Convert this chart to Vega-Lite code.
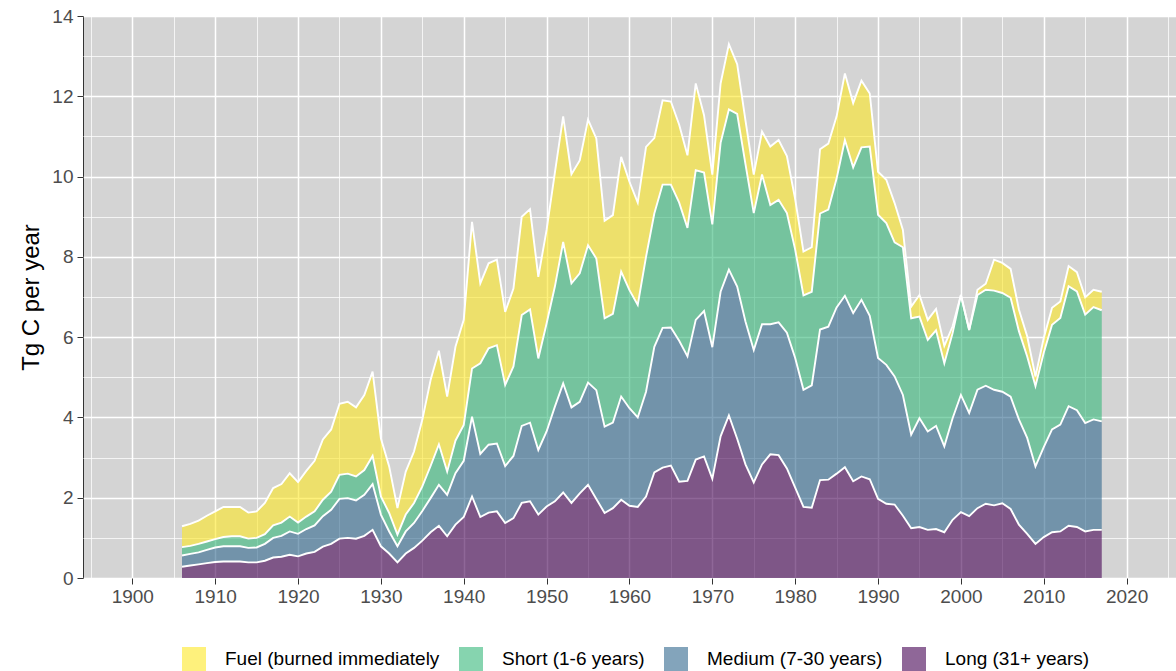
{
"$schema": "https://vega.github.io/schema/vega-lite/v6.json",
"width": 1093, "height": 562,
"autosize": {"type": "none"},
"padding": {"left": 83, "top": 16, "right": 0, "bottom": 93},
"background": "white",
"config": {
  "font": "Liberation Sans",
  "view": {"fill": "#D4D4D4", "stroke": "#333333", "strokeWidth": 1},
  "axis": {"domain": false, "labelFont": "Liberation Sans", "labelFontSize": 19, "labelColor": "#4D4D4D", "tickColor": "#333333", "tickSize": 6, "tickWidth": 1, "gridColor": "#FFFFFF", "titleFont": "Liberation Sans", "titleFontSize": 24, "titleFontWeight": "normal", "titleColor": "#000000"}
},
"data": {"values": [
{"year":1906,"cat":"4","v":0.28},{"year":1906,"cat":"3","v":0.28},{"year":1906,"cat":"2","v":0.21},{"year":1906,"cat":"1","v":0.52},
{"year":1907,"cat":"4","v":0.31},{"year":1907,"cat":"3","v":0.29},{"year":1907,"cat":"2","v":0.20},{"year":1907,"cat":"1","v":0.55},
{"year":1908,"cat":"4","v":0.34},{"year":1908,"cat":"3","v":0.30},{"year":1908,"cat":"2","v":0.21},{"year":1908,"cat":"1","v":0.58},
{"year":1909,"cat":"4","v":0.37},{"year":1909,"cat":"3","v":0.33},{"year":1909,"cat":"2","v":0.21},{"year":1909,"cat":"1","v":0.64},
{"year":1910,"cat":"4","v":0.40},{"year":1910,"cat":"3","v":0.36},{"year":1910,"cat":"2","v":0.21},{"year":1910,"cat":"1","v":0.69},
{"year":1911,"cat":"4","v":0.41},{"year":1911,"cat":"3","v":0.38},{"year":1911,"cat":"2","v":0.23},{"year":1911,"cat":"1","v":0.75},
{"year":1912,"cat":"4","v":0.41},{"year":1912,"cat":"3","v":0.38},{"year":1912,"cat":"2","v":0.25},{"year":1912,"cat":"1","v":0.73},
{"year":1913,"cat":"4","v":0.41},{"year":1913,"cat":"3","v":0.38},{"year":1913,"cat":"2","v":0.25},{"year":1913,"cat":"1","v":0.73},
{"year":1914,"cat":"4","v":0.39},{"year":1914,"cat":"3","v":0.36},{"year":1914,"cat":"2","v":0.23},{"year":1914,"cat":"1","v":0.65},
{"year":1915,"cat":"4","v":0.39},{"year":1915,"cat":"3","v":0.37},{"year":1915,"cat":"2","v":0.24},{"year":1915,"cat":"1","v":0.66},
{"year":1916,"cat":"4","v":0.43},{"year":1916,"cat":"3","v":0.42},{"year":1916,"cat":"2","v":0.24},{"year":1916,"cat":"1","v":0.78},
{"year":1917,"cat":"4","v":0.51},{"year":1917,"cat":"3","v":0.49},{"year":1917,"cat":"2","v":0.31},{"year":1917,"cat":"1","v":0.93},
{"year":1918,"cat":"4","v":0.53},{"year":1918,"cat":"3","v":0.52},{"year":1918,"cat":"2","v":0.33},{"year":1918,"cat":"1","v":0.96},
{"year":1919,"cat":"4","v":0.58},{"year":1919,"cat":"3","v":0.58},{"year":1919,"cat":"2","v":0.37},{"year":1919,"cat":"1","v":1.08},
{"year":1920,"cat":"4","v":0.54},{"year":1920,"cat":"3","v":0.56},{"year":1920,"cat":"2","v":0.28},{"year":1920,"cat":"1","v":1.01},
{"year":1921,"cat":"4","v":0.61},{"year":1921,"cat":"3","v":0.61},{"year":1921,"cat":"2","v":0.31},{"year":1921,"cat":"1","v":1.14},
{"year":1922,"cat":"4","v":0.65},{"year":1922,"cat":"3","v":0.66},{"year":1922,"cat":"2","v":0.35},{"year":1922,"cat":"1","v":1.26},
{"year":1923,"cat":"4","v":0.78},{"year":1923,"cat":"3","v":0.76},{"year":1923,"cat":"2","v":0.41},{"year":1923,"cat":"1","v":1.50},
{"year":1924,"cat":"4","v":0.85},{"year":1924,"cat":"3","v":0.85},{"year":1924,"cat":"2","v":0.45},{"year":1924,"cat":"1","v":1.55},
{"year":1925,"cat":"4","v":0.98},{"year":1925,"cat":"3","v":0.99},{"year":1925,"cat":"2","v":0.60},{"year":1925,"cat":"1","v":1.77},
{"year":1926,"cat":"4","v":1.00},{"year":1926,"cat":"3","v":0.99},{"year":1926,"cat":"2","v":0.61},{"year":1926,"cat":"1","v":1.79},
{"year":1927,"cat":"4","v":0.98},{"year":1927,"cat":"3","v":0.95},{"year":1927,"cat":"2","v":0.60},{"year":1927,"cat":"1","v":1.72},
{"year":1928,"cat":"4","v":1.05},{"year":1928,"cat":"3","v":1.02},{"year":1928,"cat":"2","v":0.62},{"year":1928,"cat":"1","v":1.87},
{"year":1929,"cat":"4","v":1.20},{"year":1929,"cat":"3","v":1.14},{"year":1929,"cat":"2","v":0.70},{"year":1929,"cat":"1","v":2.10},
{"year":1930,"cat":"4","v":0.79},{"year":1930,"cat":"3","v":0.79},{"year":1930,"cat":"2","v":0.45},{"year":1930,"cat":"1","v":1.45},
{"year":1931,"cat":"4","v":0.61},{"year":1931,"cat":"3","v":0.55},{"year":1931,"cat":"2","v":0.46},{"year":1931,"cat":"1","v":1.16},
{"year":1932,"cat":"4","v":0.39},{"year":1932,"cat":"3","v":0.40},{"year":1932,"cat":"2","v":0.29},{"year":1932,"cat":"1","v":0.66},
{"year":1933,"cat":"4","v":0.61},{"year":1933,"cat":"3","v":0.55},{"year":1933,"cat":"2","v":0.42},{"year":1933,"cat":"1","v":1.07},
{"year":1934,"cat":"4","v":0.75},{"year":1934,"cat":"3","v":0.62},{"year":1934,"cat":"2","v":0.50},{"year":1934,"cat":"1","v":1.28},
{"year":1935,"cat":"4","v":0.93},{"year":1935,"cat":"3","v":0.74},{"year":1935,"cat":"2","v":0.61},{"year":1935,"cat":"1","v":1.66},
{"year":1936,"cat":"4","v":1.14},{"year":1936,"cat":"3","v":0.85},{"year":1936,"cat":"2","v":0.80},{"year":1936,"cat":"1","v":2.14},
{"year":1937,"cat":"4","v":1.30},{"year":1937,"cat":"3","v":1.02},{"year":1937,"cat":"2","v":1.01},{"year":1937,"cat":"1","v":2.33},
{"year":1938,"cat":"4","v":1.04},{"year":1938,"cat":"3","v":1.03},{"year":1938,"cat":"2","v":0.58},{"year":1938,"cat":"1","v":1.87},
{"year":1939,"cat":"4","v":1.33},{"year":1939,"cat":"3","v":1.28},{"year":1939,"cat":"2","v":0.81},{"year":1939,"cat":"1","v":2.34},
{"year":1940,"cat":"4","v":1.52},{"year":1940,"cat":"3","v":1.40},{"year":1940,"cat":"2","v":0.89},{"year":1940,"cat":"1","v":2.62},
{"year":1941,"cat":"4","v":2.03},{"year":1941,"cat":"3","v":1.99},{"year":1941,"cat":"2","v":1.20},{"year":1941,"cat":"1","v":3.65},
{"year":1942,"cat":"4","v":1.52},{"year":1942,"cat":"3","v":1.57},{"year":1942,"cat":"2","v":2.26},{"year":1942,"cat":"1","v":1.99},
{"year":1943,"cat":"4","v":1.63},{"year":1943,"cat":"3","v":1.69},{"year":1943,"cat":"2","v":2.40},{"year":1943,"cat":"1","v":2.12},
{"year":1944,"cat":"4","v":1.66},{"year":1944,"cat":"3","v":1.69},{"year":1944,"cat":"2","v":2.45},{"year":1944,"cat":"1","v":2.13},
{"year":1945,"cat":"4","v":1.37},{"year":1945,"cat":"3","v":1.42},{"year":1945,"cat":"2","v":2.02},{"year":1945,"cat":"1","v":1.82},
{"year":1946,"cat":"4","v":1.49},{"year":1946,"cat":"3","v":1.55},{"year":1946,"cat":"2","v":2.23},{"year":1946,"cat":"1","v":1.94},
{"year":1947,"cat":"4","v":1.87},{"year":1947,"cat":"3","v":1.92},{"year":1947,"cat":"2","v":2.76},{"year":1947,"cat":"1","v":2.45},
{"year":1948,"cat":"4","v":1.91},{"year":1948,"cat":"3","v":1.96},{"year":1948,"cat":"2","v":2.82},{"year":1948,"cat":"1","v":2.50},
{"year":1949,"cat":"4","v":1.58},{"year":1949,"cat":"3","v":1.61},{"year":1949,"cat":"2","v":2.28},{"year":1949,"cat":"1","v":2.03},
{"year":1950,"cat":"4","v":1.78},{"year":1950,"cat":"3","v":1.87},{"year":1950,"cat":"2","v":2.69},{"year":1950,"cat":"1","v":2.33},
{"year":1951,"cat":"4","v":1.91},{"year":1951,"cat":"3","v":2.36},{"year":1951,"cat":"2","v":2.99},{"year":1951,"cat":"1","v":2.84},
{"year":1952,"cat":"4","v":2.13},{"year":1952,"cat":"3","v":2.72},{"year":1952,"cat":"2","v":3.52},{"year":1952,"cat":"1","v":3.13},
{"year":1953,"cat":"4","v":1.87},{"year":1953,"cat":"3","v":2.38},{"year":1953,"cat":"2","v":3.09},{"year":1953,"cat":"1","v":2.72},
{"year":1954,"cat":"4","v":2.11},{"year":1954,"cat":"3","v":2.28},{"year":1954,"cat":"2","v":3.20},{"year":1954,"cat":"1","v":2.81},
{"year":1955,"cat":"4","v":2.32},{"year":1955,"cat":"3","v":2.55},{"year":1955,"cat":"2","v":3.42},{"year":1955,"cat":"1","v":3.13},
{"year":1956,"cat":"4","v":1.97},{"year":1956,"cat":"3","v":2.71},{"year":1956,"cat":"2","v":3.28},{"year":1956,"cat":"1","v":2.99},
{"year":1957,"cat":"4","v":1.62},{"year":1957,"cat":"3","v":2.15},{"year":1957,"cat":"2","v":2.70},{"year":1957,"cat":"1","v":2.43},
{"year":1958,"cat":"4","v":1.74},{"year":1958,"cat":"3","v":2.13},{"year":1958,"cat":"2","v":2.71},{"year":1958,"cat":"1","v":2.46},
{"year":1959,"cat":"4","v":1.95},{"year":1959,"cat":"3","v":2.57},{"year":1959,"cat":"2","v":3.11},{"year":1959,"cat":"1","v":2.86},
{"year":1960,"cat":"4","v":1.80},{"year":1960,"cat":"3","v":2.43},{"year":1960,"cat":"2","v":2.94},{"year":1960,"cat":"1","v":2.70},
{"year":1961,"cat":"4","v":1.77},{"year":1961,"cat":"3","v":2.23},{"year":1961,"cat":"2","v":2.80},{"year":1961,"cat":"1","v":2.55},
{"year":1962,"cat":"4","v":2.03},{"year":1962,"cat":"3","v":2.61},{"year":1962,"cat":"2","v":3.36},{"year":1962,"cat":"1","v":2.74},
{"year":1963,"cat":"4","v":2.63},{"year":1963,"cat":"3","v":3.13},{"year":1963,"cat":"2","v":3.32},{"year":1963,"cat":"1","v":1.88},
{"year":1964,"cat":"4","v":2.75},{"year":1964,"cat":"3","v":3.48},{"year":1964,"cat":"2","v":3.57},{"year":1964,"cat":"1","v":2.10},
{"year":1965,"cat":"4","v":2.80},{"year":1965,"cat":"3","v":3.44},{"year":1965,"cat":"2","v":3.56},{"year":1965,"cat":"1","v":2.07},
{"year":1966,"cat":"4","v":2.40},{"year":1966,"cat":"3","v":3.51},{"year":1966,"cat":"2","v":3.44},{"year":1966,"cat":"1","v":1.94},
{"year":1967,"cat":"4","v":2.42},{"year":1967,"cat":"3","v":3.10},{"year":1967,"cat":"2","v":3.20},{"year":1967,"cat":"1","v":1.81},
{"year":1968,"cat":"4","v":2.95},{"year":1968,"cat":"3","v":3.48},{"year":1968,"cat":"2","v":3.73},{"year":1968,"cat":"1","v":2.16},
{"year":1969,"cat":"4","v":3.03},{"year":1969,"cat":"3","v":3.62},{"year":1969,"cat":"2","v":3.45},{"year":1969,"cat":"1","v":1.43},
{"year":1970,"cat":"4","v":2.47},{"year":1970,"cat":"3","v":3.28},{"year":1970,"cat":"2","v":3.06},{"year":1970,"cat":"1","v":1.24},
{"year":1971,"cat":"4","v":3.53},{"year":1971,"cat":"3","v":3.60},{"year":1971,"cat":"2","v":3.71},{"year":1971,"cat":"1","v":1.48},
{"year":1972,"cat":"4","v":4.05},{"year":1972,"cat":"3","v":3.63},{"year":1972,"cat":"2","v":3.99},{"year":1972,"cat":"1","v":1.63},
{"year":1973,"cat":"4","v":3.47},{"year":1973,"cat":"3","v":3.79},{"year":1973,"cat":"2","v":4.30},{"year":1973,"cat":"1","v":1.24},
{"year":1974,"cat":"4","v":2.83},{"year":1974,"cat":"3","v":3.56},{"year":1974,"cat":"2","v":3.92},{"year":1974,"cat":"1","v":1.09},
{"year":1975,"cat":"4","v":2.38},{"year":1975,"cat":"3","v":3.30},{"year":1975,"cat":"2","v":3.41},{"year":1975,"cat":"1","v":0.96},
{"year":1976,"cat":"4","v":2.83},{"year":1976,"cat":"3","v":3.49},{"year":1976,"cat":"2","v":3.73},{"year":1976,"cat":"1","v":1.07},
{"year":1977,"cat":"4","v":3.08},{"year":1977,"cat":"3","v":3.24},{"year":1977,"cat":"2","v":2.97},{"year":1977,"cat":"1","v":1.46},
{"year":1978,"cat":"4","v":3.06},{"year":1978,"cat":"3","v":3.31},{"year":1978,"cat":"2","v":3.05},{"year":1978,"cat":"1","v":1.49},
{"year":1979,"cat":"4","v":2.73},{"year":1979,"cat":"3","v":3.38},{"year":1979,"cat":"2","v":2.98},{"year":1979,"cat":"1","v":1.42},
{"year":1980,"cat":"4","v":2.25},{"year":1980,"cat":"3","v":3.23},{"year":1980,"cat":"2","v":2.70},{"year":1980,"cat":"1","v":1.26},
{"year":1981,"cat":"4","v":1.77},{"year":1981,"cat":"3","v":2.92},{"year":1981,"cat":"2","v":2.35},{"year":1981,"cat":"1","v":1.09},
{"year":1982,"cat":"4","v":1.75},{"year":1982,"cat":"3","v":3.05},{"year":1982,"cat":"2","v":2.33},{"year":1982,"cat":"1","v":1.11},
{"year":1983,"cat":"4","v":2.44},{"year":1983,"cat":"3","v":3.75},{"year":1983,"cat":"2","v":2.89},{"year":1983,"cat":"1","v":1.60},
{"year":1984,"cat":"4","v":2.45},{"year":1984,"cat":"3","v":3.81},{"year":1984,"cat":"2","v":2.92},{"year":1984,"cat":"1","v":1.64},
{"year":1985,"cat":"4","v":2.60},{"year":1985,"cat":"3","v":4.14},{"year":1985,"cat":"2","v":3.21},{"year":1985,"cat":"1","v":1.55},
{"year":1986,"cat":"4","v":2.76},{"year":1986,"cat":"3","v":4.27},{"year":1986,"cat":"2","v":3.88},{"year":1986,"cat":"1","v":1.66},
{"year":1987,"cat":"4","v":2.41},{"year":1987,"cat":"3","v":4.19},{"year":1987,"cat":"2","v":3.63},{"year":1987,"cat":"1","v":1.60},
{"year":1988,"cat":"4","v":2.53},{"year":1988,"cat":"3","v":4.40},{"year":1988,"cat":"2","v":3.80},{"year":1988,"cat":"1","v":1.66},
{"year":1989,"cat":"4","v":2.46},{"year":1989,"cat":"3","v":4.07},{"year":1989,"cat":"2","v":4.22},{"year":1989,"cat":"1","v":1.32},
{"year":1990,"cat":"4","v":1.97},{"year":1990,"cat":"3","v":3.51},{"year":1990,"cat":"2","v":3.57},{"year":1990,"cat":"1","v":1.07},
{"year":1991,"cat":"4","v":1.85},{"year":1991,"cat":"3","v":3.46},{"year":1991,"cat":"2","v":3.53},{"year":1991,"cat":"1","v":1.08},
{"year":1992,"cat":"4","v":1.83},{"year":1992,"cat":"3","v":3.19},{"year":1992,"cat":"2","v":3.34},{"year":1992,"cat":"1","v":0.98},
{"year":1993,"cat":"4","v":1.55},{"year":1993,"cat":"3","v":3.01},{"year":1993,"cat":"2","v":3.68},{"year":1993,"cat":"1","v":0.43},
{"year":1994,"cat":"4","v":1.24},{"year":1994,"cat":"3","v":2.33},{"year":1994,"cat":"2","v":2.90},{"year":1994,"cat":"1","v":0.29},
{"year":1995,"cat":"4","v":1.27},{"year":1995,"cat":"3","v":2.71},{"year":1995,"cat":"2","v":2.53},{"year":1995,"cat":"1","v":0.54},
{"year":1996,"cat":"4","v":1.20},{"year":1996,"cat":"3","v":2.45},{"year":1996,"cat":"2","v":2.28},{"year":1996,"cat":"1","v":0.50},
{"year":1997,"cat":"4","v":1.22},{"year":1997,"cat":"3","v":2.57},{"year":1997,"cat":"2","v":2.38},{"year":1997,"cat":"1","v":0.53},
{"year":1998,"cat":"4","v":1.14},{"year":1998,"cat":"3","v":2.14},{"year":1998,"cat":"2","v":2.07},{"year":1998,"cat":"1","v":0.43},
{"year":1999,"cat":"4","v":1.45},{"year":1999,"cat":"3","v":2.53},{"year":1999,"cat":"2","v":2.12},{"year":1999,"cat":"1","v":0.17},
{"year":2000,"cat":"4","v":1.64},{"year":2000,"cat":"3","v":2.92},{"year":2000,"cat":"2","v":2.49},{"year":2000,"cat":"1","v":0.00},
{"year":2001,"cat":"4","v":1.54},{"year":2001,"cat":"3","v":2.57},{"year":2001,"cat":"2","v":2.07},{"year":2001,"cat":"1","v":0.00},
{"year":2002,"cat":"4","v":1.74},{"year":2002,"cat":"3","v":2.95},{"year":2002,"cat":"2","v":2.36},{"year":2002,"cat":"1","v":0.13},
{"year":2003,"cat":"4","v":1.85},{"year":2003,"cat":"3","v":2.94},{"year":2003,"cat":"2","v":2.39},{"year":2003,"cat":"1","v":0.15},
{"year":2004,"cat":"4","v":1.81},{"year":2004,"cat":"3","v":2.88},{"year":2004,"cat":"2","v":2.47},{"year":2004,"cat":"1","v":0.77},
{"year":2005,"cat":"4","v":1.86},{"year":2005,"cat":"3","v":2.78},{"year":2005,"cat":"2","v":2.46},{"year":2005,"cat":"1","v":0.75},
{"year":2006,"cat":"4","v":1.72},{"year":2006,"cat":"3","v":2.80},{"year":2006,"cat":"2","v":2.46},{"year":2006,"cat":"1","v":0.72},
{"year":2007,"cat":"4","v":1.33},{"year":2007,"cat":"3","v":2.62},{"year":2007,"cat":"2","v":2.20},{"year":2007,"cat":"1","v":0.54},
{"year":2008,"cat":"4","v":1.10},{"year":2008,"cat":"3","v":2.39},{"year":2008,"cat":"2","v":2.03},{"year":2008,"cat":"1","v":0.50},
{"year":2009,"cat":"4","v":0.85},{"year":2009,"cat":"3","v":1.93},{"year":2009,"cat":"2","v":2.00},{"year":2009,"cat":"1","v":0.24},
{"year":2010,"cat":"4","v":1.02},{"year":2010,"cat":"3","v":2.24},{"year":2010,"cat":"2","v":2.35},{"year":2010,"cat":"1","v":0.37},
{"year":2011,"cat":"4","v":1.14},{"year":2011,"cat":"3","v":2.56},{"year":2011,"cat":"2","v":2.61},{"year":2011,"cat":"1","v":0.42},
{"year":2012,"cat":"4","v":1.16},{"year":2012,"cat":"3","v":2.66},{"year":2012,"cat":"2","v":2.66},{"year":2012,"cat":"1","v":0.41},
{"year":2013,"cat":"4","v":1.30},{"year":2013,"cat":"3","v":2.98},{"year":2013,"cat":"2","v":2.99},{"year":2013,"cat":"1","v":0.50},
{"year":2014,"cat":"4","v":1.27},{"year":2014,"cat":"3","v":2.91},{"year":2014,"cat":"2","v":2.96},{"year":2014,"cat":"1","v":0.48},
{"year":2015,"cat":"4","v":1.16},{"year":2015,"cat":"3","v":2.70},{"year":2015,"cat":"2","v":2.70},{"year":2015,"cat":"1","v":0.43},
{"year":2016,"cat":"4","v":1.20},{"year":2016,"cat":"3","v":2.75},{"year":2016,"cat":"2","v":2.80},{"year":2016,"cat":"1","v":0.43},
{"year":2017,"cat":"4","v":1.20},{"year":2017,"cat":"3","v":2.70},{"year":2017,"cat":"2","v":2.77},{"year":2017,"cat":"1","v":0.46}
]},
"layer": [
  {
    "mark": {"type": "area", "opacity": 0.6, "interpolate": "linear"},
    "encoding": {
      "x": {"field": "year", "type": "quantitative", "scale": {"domain": [1894.05, 2025.96], "nice": false, "zero": false},
            "axis": {"values": [1900,1910,1920,1930,1940,1950,1960,1970,1980,1990,2000,2010,2020], "format": "d", "grid": true, "gridWidth": 1.5, "title": null, "labelPadding": 3}},
      "y": {"field": "v", "type": "quantitative", "stack": "zero", "scale": {"domain": [0, 14], "nice": false},
            "axis": {"values": [0,2,4,6,8,10,12,14], "grid": true, "gridWidth": 1.5, "title": "Tg C per year", "labelPadding": 4, "titlePadding": 8}},
      "color": {"field": "cat", "type": "nominal",
                "scale": {"domain": ["1","2","3","4"], "range": ["#FDE725","#35B779","#31688E","#440154"]},
                "legend": {"title": null, "orient": "none", "legendX": 99, "legendY": 631, "direction": "horizontal",
                           "symbolType": "square", "symbolSize": 576, "symbolOpacity": 0.6, "symbolStrokeWidth": 0,
                           "labelFont": "Liberation Sans", "labelFontSize": 19, "labelColor": "#000000", "labelOffset": 19,
                           "columnPadding": 19, "labelLimit": 400,
                           "labelExpr": "datum.label == '1' ? 'Fuel (burned immediately' : datum.label == '2' ? 'Short (1-6 years)' : datum.label == '3' ? 'Medium (7-30 years)' : 'Long (31+ years)'"}}
    }
  },
  {
    "mark": {"type": "line", "color": "#FFFFFF", "strokeWidth": 1.9, "interpolate": "linear"},
    "encoding": {
      "x": {"field": "year", "type": "quantitative", "scale": {"domain": [1894.05, 2025.96], "nice": false, "zero": false},
            "axis": {"orient": "top", "values": [1895,1905,1915,1925,1935,1945,1955,1965,1975,1985,1995,2005,2015,2025], "labels": false, "ticks": false, "domain": false, "grid": true, "gridWidth": 0.75, "title": null}},
      "y": {"field": "v", "type": "quantitative", "stack": "zero", "scale": {"domain": [0, 14], "nice": false},
            "axis": {"orient": "right", "values": [1,3,5,7,9,11,13], "labels": false, "ticks": false, "domain": false, "grid": true, "gridWidth": 0.75, "title": null}},
      "detail": {"field": "cat", "type": "nominal"}
    }
  }
],
"resolve": {"axis": {"x": "independent", "y": "independent"}}
}
